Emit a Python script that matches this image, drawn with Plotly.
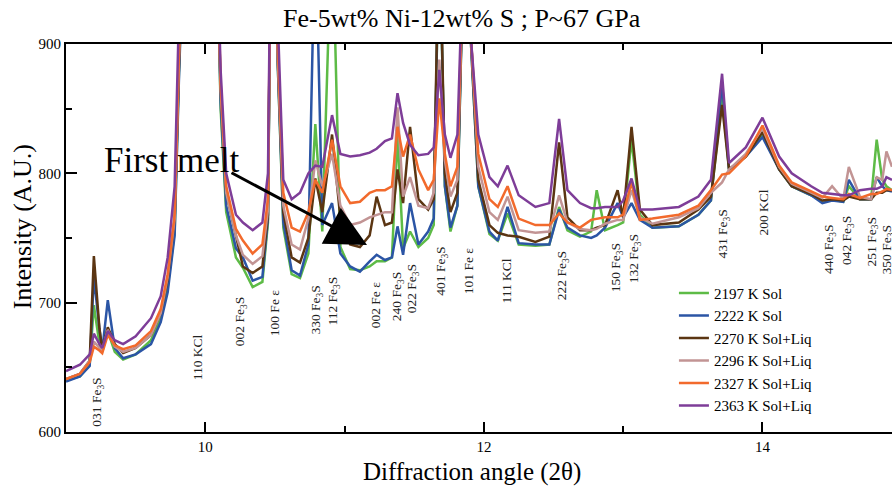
import plotly.graph_objects as go

# ---------------- data ----------------
angle = [9.00, 9.10, 9.17, 9.20, 9.24, 9.26, 9.30, 9.35, 9.41, 9.50,
         9.61, 9.68, 9.73, 9.78, 9.81, 9.90, 10.00, 10.08, 10.11, 10.15,
         10.22, 10.27, 10.34, 10.41, 10.45, 10.48, 10.52, 10.56, 10.62, 10.68,
         10.74, 10.79, 10.84, 10.91, 10.97, 11.04, 11.11, 11.18, 11.23, 11.29,
         11.34, 11.38, 11.42, 11.47, 11.53, 11.60, 11.64, 11.68, 11.72, 11.76,
         11.81, 11.86, 11.91, 11.96, 12.04, 12.10, 12.17, 12.25, 12.37, 12.47,
         12.54, 12.60, 12.69, 12.77, 12.81, 12.87, 12.96, 13.00, 13.06, 13.12,
         13.21, 13.40, 13.54, 13.63, 13.71, 13.76, 13.88, 14.00, 14.12, 14.21,
         14.35, 14.43, 14.50, 14.58, 14.62, 14.70, 14.78, 14.82, 14.86, 14.89,
         14.93]

green_2197 = [640, 643, 652, 698, 668, 662, 678, 662, 656, 660,
              671, 688, 712, 755, 875, 1400, 1500, 1000, 850, 770,
              735, 727, 712, 716, 762, 1100, 885, 758, 722, 719,
              738, 838, 755, 1000, 743, 726, 725, 728, 732, 732,
              735, 830, 742, 755, 743, 750, 760, 1000, 790, 755,
              775, 1000, 900, 790, 753, 748, 769, 745, 744, 745,
              774, 756, 751, 755, 787, 756, 760, 762, 826, 768,
              758, 759, 768, 779, 860, 803, 813, 830, 803, 790,
              783, 779, 780, 778, 790, 780, 780, 826, 795, 790,
              787]

blue_2222 = [639, 643, 651, 720, 680, 663, 702, 665, 657, 660,
             668, 685, 708, 752, 870, 1400, 1500, 1000, 855, 775,
             742, 735, 717, 720, 765, 1100, 885, 762, 725, 721,
             745, 1000, 760, 777, 738, 728, 724, 732, 737, 733,
             735, 759, 737, 777, 745, 755, 765, 1000, 790, 758,
             775, 1000, 900, 790, 755, 748, 774, 746, 745, 745,
             772, 758, 752, 750, 752, 758, 777, 766, 777, 764,
             758, 759, 768, 779, 870, 803, 813, 828, 803, 790,
             783, 777, 779, 778, 795, 780, 780, 797, 790, 787,
             786]

brown_2270 = [641, 645, 655, 736, 680, 664, 681, 668, 661, 665,
              675, 692, 718, 765, 880, 1400, 1500, 1000, 865, 785,
              752, 728, 723, 728, 768, 1100, 890, 770, 735, 731,
              750, 796, 770, 830, 765, 745, 743, 752, 782, 760,
              762, 803, 777, 836, 780, 772, 780, 1000, 800, 770,
              785, 1000, 900, 795, 760, 754, 752, 751, 747, 751,
              824, 766, 756, 756, 758, 760, 787, 766, 836, 772,
              760, 762, 772, 782, 853, 803, 813, 832, 803, 790,
              784, 779, 780, 779, 782, 780, 780, 785, 785, 787,
              787]

pink_2296 = [641, 645, 655, 670, 665, 663, 679, 666, 662, 665,
             675, 692, 720, 765, 885, 1400, 1500, 1000, 865, 785,
             752, 737, 730, 736, 772, 1100, 890, 775, 745, 741,
             765, 810, 790, 815, 775, 760, 762, 766, 768, 770,
             770, 851, 782, 797, 775, 773, 785, 888, 810, 782,
             795, 1000, 900, 805, 770, 764, 782, 756, 754, 755,
             783, 762, 757, 756, 757, 761, 764, 764, 787, 766,
             761, 766, 773, 785, 793, 803, 815, 835, 805, 792,
             785, 781, 790, 780, 805, 782, 780, 797, 795, 817,
             805]

orange_2327 = [641, 645, 654, 666, 663, 661, 675, 667, 664, 667,
               678, 695, 722, 768, 890, 1400, 1500, 1000, 870, 790,
               757, 748, 738, 745, 780, 1100, 900, 785, 758, 755,
               770, 795, 785, 826, 790, 777, 778, 785, 787, 787,
               790, 836, 813, 830, 803, 787, 795, 858, 815, 790,
               805, 1000, 900, 815, 780, 774, 790, 765, 760, 760,
               769, 762, 758, 764, 765, 766, 766, 768, 793, 764,
               765, 768, 775, 787, 799, 800, 813, 837, 806, 793,
               786, 782, 781, 780, 784, 781, 784, 784, 786, 788,
               787]

purple_2363 = [647, 652, 660, 676, 668, 665, 678, 671, 668, 674,
               688, 705, 735, 790, 920, 1400, 1500, 1000, 880, 800,
               768, 762, 756, 762, 800, 1100, 920, 795, 780, 785,
               800, 806, 805, 845, 815, 813, 814, 816, 819, 825,
               827, 862, 839, 822, 814, 815, 820, 880, 830, 812,
               830, 1000, 900, 830, 797, 790, 806, 783, 774, 777,
               842, 787, 777, 773, 773, 774, 774, 779, 796, 772,
               772, 774, 782, 795, 877, 808, 820, 843, 813, 800,
               790, 785, 784, 783, 783, 787, 788, 788, 790, 797,
               795]

series_names = ["2197 K Sol", "2222 K Sol", "2270 K Sol+Liq",
                "2296 K Sol+Liq", "2327 K Sol+Liq", "2363 K Sol+Liq"]
series_values = [green_2197, blue_2222, brown_2270, pink_2296, orange_2327, purple_2363]
series_colors = ["#5DBB46", "#2B55A5", "#5B3512", "#C29494", "#F26A2C", "#7E3D98"]

peak_labels = ["031 Fe<sub>3</sub>S", "110 KCl", "002 Fe<sub>3</sub>S", "100 Fe ε",
               "330 Fe<sub>3</sub>S", "112 Fe<sub>3</sub>S", "002 Fe ε", "240 Fe<sub>3</sub>S",
               "022 Fe<sub>3</sub>S", "401 Fe<sub>3</sub>S", "101 Fe ε", "111 KCl",
               "222 Fe<sub>3</sub>S", "150 Fe<sub>3</sub>S", "132 Fe<sub>3</sub>S",
               "431 Fe<sub>3</sub>S", "200 KCl", "440 Fe<sub>3</sub>S", "042 Fe<sub>3</sub>S",
               "251 Fe<sub>3</sub>S", "350 Fe<sub>3</sub>S"]
peak_label_x = [9.226, 9.95, 10.25, 10.495, 10.796, 10.918, 11.219, 11.376, 11.49, 11.70,
                11.885, 12.165, 12.566, 12.953, 13.082, 13.72, 14.007, 14.48, 14.61,
                14.79, 14.90]
peak_label_y = [623, 658, 685, 692, 694, 701, 698, 705, 711, 724,
                725, 717, 721, 727, 734, 753, 770, 741, 748, 747, 741]

x_ticks = [10, 12, 14]
y_ticks = [600, 700, 800, 900]

FONT = "Liberation Serif, Times New Roman, serif"

fig = go.Figure()
for name, vals, col in zip(series_names, series_values, series_colors):
    fig.add_trace(go.Scatter(x=angle, y=vals, mode="lines", name=name,
                             line=dict(color=col, width=2.5)))

annotations = []
for txt, px, py in zip(peak_labels, peak_label_x, peak_label_y):
    annotations.append(dict(x=px, y=py, xref="x", yref="y", text=txt, textangle=-90,
                            showarrow=False, font=dict(family=FONT, size=13.5, color="#222"),
                            xanchor="center", yanchor="middle"))

# First melt label and arrow
annotations.append(dict(x=9.756, y=810, xref="x", yref="y", text="First melt",
                        showarrow=False, font=dict(family=FONT, size=35, color="black")))
annotations.append(dict(x=11.161, y=744.6, xref="x", yref="y", text="",
                        showarrow=True, ax=-137, ay=-73, axref="pixel", ayref="pixel",
                        arrowhead=2, arrowsize=2.7, arrowwidth=3, arrowcolor="black"))

# axis titles
annotations.append(dict(x=-0.053, y=0.528, xref="paper", yref="paper",
                        text="Intensity (A.U.)", textangle=-90, showarrow=False,
                        font=dict(family=FONT, size=26, color="black"),
                        xanchor="center", yanchor="middle"))
annotations.append(dict(x=0.492, y=-0.103, xref="paper", yref="paper",
                        text="Diffraction angle (2θ)", showarrow=False,
                        font=dict(family=FONT, size=25, color="black"),
                        xanchor="center", yanchor="middle"))

fig.update_layout(
    width=892, height=486,
    margin=dict(l=66, r=0, t=44, b=54),
    paper_bgcolor="white", plot_bgcolor="white",
    title=dict(text="Fe-5wt% Ni-12wt% S ; P~67 GPa", x=0.479, xref="paper",
               xanchor="center", y=0.963, yanchor="middle",
               font=dict(family=FONT, size=26, color="black")),
    font=dict(family=FONT, color="black"),
    showlegend=True,
    legend=dict(x=0.736, y=0.40, xanchor="left", yanchor="top",
                bgcolor="rgba(0,0,0,0)", font=dict(family=FONT, size=15, color="black"),
                tracegroupgap=0),
    annotations=annotations,
)

fig.update_xaxes(range=[9.0, 14.93], tickvals=x_ticks, ticktext=[str(v) for v in x_ticks],
                 ticks="inside", ticklen=10, tickwidth=1.5, tickcolor="black",
                 showline=True, linewidth=2, linecolor="black", mirror="ticks",
                 showgrid=False, zeroline=False,
                 tickfont=dict(family=FONT, size=15, color="black"),
                 minor=dict(tickvals=[11, 13], ticks="inside", ticklen=6, tickwidth=1.5,
                            tickcolor="black", showgrid=False))
fig.update_yaxes(range=[600, 900], tickvals=y_ticks, ticktext=[str(v) for v in y_ticks],
                 ticks="inside", ticklen=11, tickwidth=1.5, tickcolor="black",
                 showline=True, linewidth=2, linecolor="black", mirror=False,
                 showgrid=False, zeroline=False,
                 tickfont=dict(family=FONT, size=15, color="black"),
                 minor=dict(dtick=50, ticks="inside", ticklen=6, tickwidth=1.5,
                            tickcolor="black", showgrid=False))

fig.write_html("out.html", config={"displayModeBar": False},
               post_script="document.body.style.margin='0';document.body.style.overflow='hidden';")
